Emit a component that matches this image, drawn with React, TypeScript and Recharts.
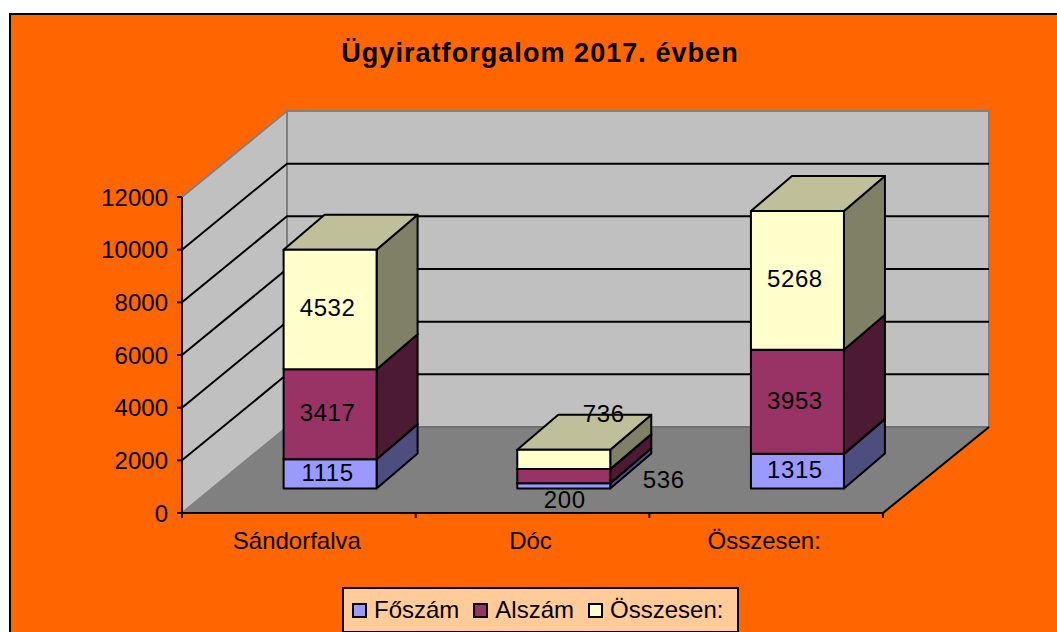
import { Bar, BarChart, CartesianGrid, LabelList, Legend, XAxis, YAxis } from "recharts"

const categories = ["Sándorfalva", "Dóc", "Összesen:"]
const foszam = [1115, 200, 1315]
const alszam = [3417, 536, 3953]
const osszesen = [4532, 736, 5268]
const yTicks = [0, 2000, 4000, 6000, 8000, 10000, 12000]

const data = categories.map((name, i) => ({
  name,
  foszam: foszam[i],
  alszam: alszam[i],
  osszesen: osszesen[i],
}))

const FONT = "'Liberation Sans', Arial, sans-serif"
const W = 1057
const H = 632
// plot area of the front plane
const LEFT = 182
const TOP = 197
const RIGHT = 883
const BOTTOM = 513
// depth of the whole 3d box, and where the bars stand in it
const WALL_DX = 105
const WALL_DY = -86
const BAR_DX = 31.5
const BAR_DY = -24.5
const BOX_DX = 41
const BOX_DY = -35

const sideColor: Record<string, string> = { "#9999FF": "#4D4D80", "#993366": "#4D1A33", "#FFFFCC": "#808066" }
const topColor: Record<string, string> = { "#9999FF": "#7373BF", "#993366": "#73264D", "#FFFFCC": "#BFBF99" }

// frame, title and the 3d walls sit in an svg behind the transparent chart
function Backdrop() {
  return (
    <svg width={W} height={H} style={{ position: "absolute", left: 0, top: 0 }}>
      <rect x={10} y={14} width={W} height={H} fill="#FF6600" stroke="#000" strokeWidth={2} />
      <text x={540} y={62} textAnchor="middle" fontFamily={FONT} fontSize={27} fontWeight="bold" letterSpacing={1.05}>
        Ügyiratforgalom 2017. évben
      </text>
      <polygon
        points={`${LEFT},${BOTTOM} ${LEFT + WALL_DX},${BOTTOM + WALL_DY} ${RIGHT + WALL_DX + 1},${BOTTOM + WALL_DY} ${RIGHT},${BOTTOM}`}
        fill="#808080"
      />
      <polygon
        points={`${LEFT},${BOTTOM} ${LEFT},${TOP} ${LEFT + WALL_DX},${TOP + WALL_DY} ${LEFT + WALL_DX},${BOTTOM + WALL_DY}`}
        fill="#C0C0C0"
        stroke="#808080"
        strokeWidth={2}
      />
      <rect
        x={LEFT + WALL_DX}
        y={TOP + WALL_DY}
        width={RIGHT - LEFT + 1}
        height={BOTTOM - TOP}
        fill="#C0C0C0"
        stroke="#808080"
        strokeWidth={2}
      />
      <line x1={LEFT + WALL_DX} y1={BOTTOM + WALL_DY} x2={RIGHT + WALL_DX + 1} y2={BOTTOM + WALL_DY} stroke="#707070" strokeWidth={2} />
      <line x1={RIGHT} y1={BOTTOM} x2={RIGHT + WALL_DX + 1} y2={BOTTOM + WALL_DY} stroke="#000" strokeWidth={2} />
    </svg>
  )
}

function WallGridLine({ x1, y1, x2 }: any) {
  if (Math.abs(y1 - TOP) < 1 || Math.abs(y1 - BOTTOM) < 1) return <g />
  return (
    <polyline
      points={`${x1},${y1} ${x1 + WALL_DX},${y1 + WALL_DY} ${x2 + WALL_DX + 1},${y1 + WALL_DY}`}
      fill="none"
      stroke="#000"
      strokeWidth={2}
    />
  )
}

function Box3D({ x, y, width, height, fill }: any) {
  const fx = x + BAR_DX
  const fy = y + BAR_DY
  const r = fx + width
  const b = fy + height
  return (
    <g stroke="#000" strokeWidth={2} strokeLinejoin="round">
      <polygon
        points={`${r},${fy} ${r + BOX_DX},${fy + BOX_DY} ${r + BOX_DX},${b + BOX_DY} ${r},${b}`}
        fill={sideColor[fill]}
      />
      <polygon
        points={`${fx},${fy} ${fx + BOX_DX},${fy + BOX_DY} ${r + BOX_DX},${fy + BOX_DY} ${r},${fy}`}
        fill={topColor[fill]}
      />
      <rect x={fx} y={fy} width={width} height={height} fill={fill} />
    </g>
  )
}

// the small Dóc segments have their labels pushed off the bar
const docNudge: Record<number, [number, number]> = {
  200: [1, 14],
  536: [100, 3],
  736: [40, -46],
}

function BarValue({ x, y, width, height, value }: any) {
  const [nx, ny] = docNudge[value] ?? [-2.5, -1.5]
  return (
    <text
      x={x + BAR_DX + width / 2 + nx}
      y={y + BAR_DY + height / 2 + ny}
      textAnchor="middle"
      dominantBaseline="central"
      fontFamily={FONT}
      fontSize={24}
      letterSpacing={0.6}
      fill="#000"
    >
      {value}
    </text>
  )
}

function CategoryTick({ x, y, payload, index }: any) {
  const band = (RIGHT - LEFT) / categories.length
  return (
    <g>
      <line x1={x - band / 2} y1={BOTTOM} x2={x - band / 2} y2={BOTTOM + 5} stroke="#000" strokeWidth={2} />
      {index === categories.length - 1 && (
        <line x1={x + band / 2} y1={BOTTOM} x2={x + band / 2} y2={BOTTOM + 5} stroke="#000" strokeWidth={2} />
      )}
      <text x={x - 2} y={y + 28} textAnchor="middle" fontFamily={FONT} fontSize={24} fill="#000">
        {payload.value}
      </text>
    </g>
  )
}

function ChartLegend({ payload }: any) {
  return (
    <div
      style={{
        boxSizing: "border-box",
        width: 397,
        height: 46,
        background: "#FFCC99",
        border: "2px solid #000",
        fontFamily: FONT,
        fontSize: 24,
        color: "#000",
        display: "flex",
        alignItems: "center",
        paddingLeft: 8,
        whiteSpace: "nowrap",
      }}
    >
      {(payload ?? []).map((p: any) => (
        <span key={p.value} style={{ display: "flex", alignItems: "center", marginRight: 14 }}>
          <span
            style={{
              boxSizing: "border-box",
              display: "inline-block",
              width: 15,
              height: 15,
              background: p.color,
              border: "2px solid #000",
              marginRight: 7,
            }}
          />
          {p.value}
        </span>
      ))}
    </div>
  )
}

export default function App() {
  return (
    <div style={{ position: "absolute", left: 0, top: 0, width: W, height: H, overflow: "hidden", background: "#fff" }}>
      <Backdrop />
      <BarChart
        width={W}
        height={H}
        data={data}
        barCategoryGap="30%"
        margin={{ top: TOP, right: W - RIGHT, bottom: 0, left: 0 }}
        style={{ position: "absolute", left: 0, top: 0 }}
      >
        <CartesianGrid vertical={false} horizontal={(p: any) => <WallGridLine key={p.key} {...p} />} />
        <XAxis
          dataKey="name"
          height={H - BOTTOM}
          axisLine={{ stroke: "#000", strokeWidth: 2 }}
          tickLine={false}
          tick={<CategoryTick />}
          interval={0}
        />
        <YAxis
          width={LEFT}
          domain={[0, 12000]}
          ticks={yTicks}
          interval={0}
          axisLine={{ stroke: "#000", strokeWidth: 2 }}
          tickLine={{ stroke: "#000", strokeWidth: 2 }}
          tickSize={5}
          tickMargin={9}
          tick={{ fill: "#000", fontFamily: FONT, fontSize: 24 }}
        />
        <Legend
          verticalAlign="middle"
          layout="horizontal"
          itemSorter={null}
          content={<ChartLegend />}
          wrapperStyle={{ position: "absolute", left: 342, top: 587, width: 397, height: 46, bottom: "auto", margin: 0 }}
        />
        <Bar dataKey="foszam" name="Főszám" stackId="a" fill="#9999FF" isAnimationActive={false} shape={<Box3D />}>
          <LabelList dataKey="foszam" content={<BarValue />} />
        </Bar>
        <Bar dataKey="alszam" name="Alszám" stackId="a" fill="#993366" isAnimationActive={false} shape={<Box3D />}>
          <LabelList dataKey="alszam" content={<BarValue />} />
        </Bar>
        <Bar dataKey="osszesen" name="Összesen:" stackId="a" fill="#FFFFCC" isAnimationActive={false} shape={<Box3D />}>
          <LabelList dataKey="osszesen" content={<BarValue />} />
        </Bar>
      </BarChart>
    </div>
  )
}
